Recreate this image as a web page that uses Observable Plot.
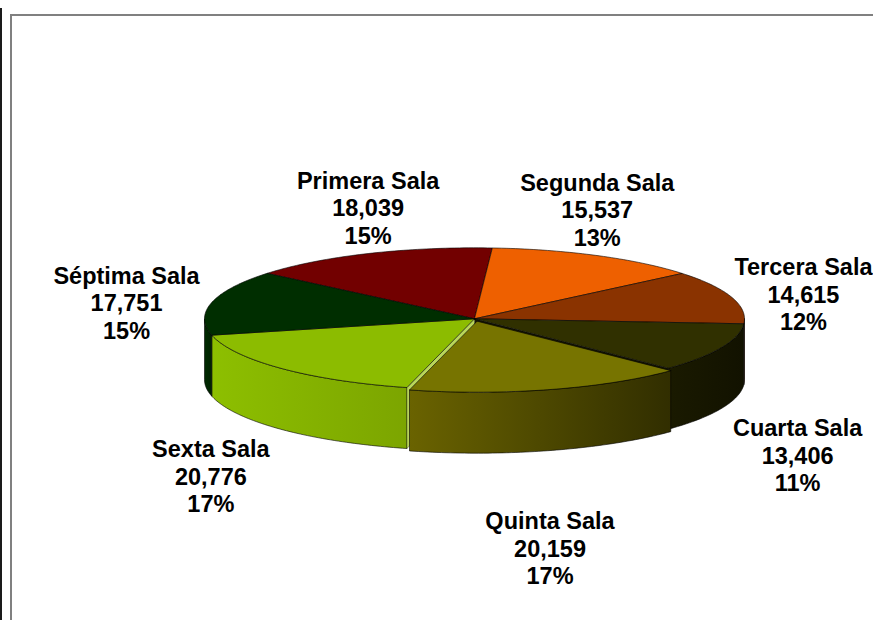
<!DOCTYPE html>
<html><head><meta charset="utf-8">
<script src="https://cdn.jsdelivr.net/npm/d3@7"></script>
<script src="https://cdn.jsdelivr.net/npm/@observablehq/plot@0.6"></script>
<style>
html,body{margin:0;padding:0;background:#fff;}
#wrap{position:relative;width:873px;height:620px;overflow:hidden;}
#outer{position:absolute;left:0;top:8px;width:2px;height:640px;background:#1a1a1a;}
#inner{position:absolute;left:10px;top:14px;width:900px;height:640px;border-left:2px solid #808080;border-top:2px solid #808080;}
#chart{position:absolute;left:0;top:0;}
</style></head><body>
<div id="wrap"><div id="outer"></div><div id="inner"></div><div id="chart"></div></div>
<script>
// ---- data ----
const salas = ["Primera Sala","Segunda Sala","Tercera Sala","Cuarta Sala","Quinta Sala","Sexta Sala","Séptima Sala"];
const casos = [18039, 15537, 14615, 13406, 20159, 20776, 17751];
const explotadas = ["Quinta Sala"];
// top-face colours and side-face gradient stops
const colores = ["#720000","#EE6000","#8A3300","#303000","#777400","#8CBC00","#002E00"];
const ladoInicio = ["#5a0000","#c04c00","#6B2600","#1A1A00","#6A6300","#8DBF00","#002A00"];
const ladoFin    = ["#400000","#a04000","#5A2000","#121200","#312E00","#7CA500","#002200"];
const corteClaro = "#b9d65a", corteOscuro = "#161600";

// ---- geometry ----
const W = 873, H = 620;
const START = -50.2 * Math.PI / 180;
const X0 = 204, X1 = 744, Y0 = 389.3, Y1 = 247.3;
const RX = (X1 - X0) / 2, RY = (Y0 - Y1) / 2;
const D = 61 / RY;          // thickness, in y units
const EXP = 0.035;          // explosion, in radius units
const FS = 23.5, LH = 1.17, GX = 12, GY = 5;

const arcs = d3.pie().sort(null).startAngle(START).endAngle(START + 2 * Math.PI)(casos);
const offset = i => {
  if (!explotadas.includes(salas[i])) return {x: 0, y: 0};
  const m = (arcs[i].startAngle + arcs[i].endAngle) / 2;
  return {x: EXP * Math.sin(m), y: EXP * Math.cos(m)};
};
function arcPts(a0, a1, yOff, o) {
  const n = Math.max(2, Math.ceil(Math.abs(a1 - a0) / (Math.PI / 180)));
  return d3.range(n + 1).map(k => {
    const a = a0 + (a1 - a0) * k / n;
    return {x: Math.sin(a) + o.x, y: Math.cos(a) + o.y + yOff};
  });
}
const tops = [], sides = [];
arcs.forEach((a, i) => {
  const o = offset(i), sala = salas[i];
  const c = {x: o.x, y: o.y};
  const poly = [c, ...arcPts(a.startAngle, a.endAngle, 0, o), c];
  poly.forEach(p => tops.push({...p, sala, i}));
  const s = Math.max(a.startAngle, Math.PI / 2), e = Math.min(a.endAngle, 3 * Math.PI / 2);
  if (s < e) {
    const top = arcPts(s, e, 0, o), bot = arcPts(e, s, -D, o);
    const sp = [...top, ...bot, top[0]];
    sides.push({sala, i, pts: sp.map(p => ({...p, sala, i}))});
  }
});
// radial cut faces of the neighbours of an exploded slice (seen through the gap)
const cutFaces = [];
const cutFace = (ang, key, tone) => {
  const sx = Math.sin(ang), cy = Math.cos(ang);
  [{x:0,y:0},{x:sx,y:cy},{x:sx,y:cy-D},{x:0,y:-D},{x:0,y:0}].forEach(p => cutFaces.push({...p, key, tone}));
};
arcs.forEach((a, i) => {
  const n = arcs.length;
  const prev = salas[(i + n - 1) % n], next = salas[(i + 1) % n];
  if (explotadas.includes(salas[i])) return;
  if (explotadas.includes(prev)) cutFace(a.startAngle, salas[i] + "-ini", corteClaro);
  if (explotadas.includes(next)) cutFace(a.endAngle, salas[i] + "-fin", corteOscuro);
});

// ---- labels ----
const fmt = d3.format(","), pct = d3.format(".0%"), total = d3.sum(casos);
const ctx = document.createElement("canvas").getContext("2d");
ctx.font = `bold ${FS}px "Liberation Sans", Arial, sans-serif`;
const clamp = v => Math.max(0, Math.min(1, v));
const xPx = d3.scaleLinear([-1, 1], [X0, X1]);
const etiquetas = arcs.map((a, i) => {
  const m = (a.startAngle + a.endAngle) / 2, s = Math.sin(m), c = Math.cos(m);
  const o = offset(i);
  let px = s + o.x, py = c + o.y;
  if (c < 0) py -= D;
  const lines = [salas[i], fmt(casos[i]), pct(casos[i] / total)];
  const w = d3.max(lines, t => ctx.measureText(t).width);
  const h = lines.length * FS * LH;
  const fx = Math.sign(s) * clamp((Math.abs(s) - 0.5) / 0.2);
  const fy = -Math.sign(c) * clamp((Math.abs(c) - 0.3) / 0.1);
  const gy = GY + (c < 0 ? 240 * Math.max(0, -c - 0.75) : 0);
  const ox = fx * (w / 2 + GX), oy = fy * (h / 2 + gy);
  // keep the label box inside the chart area
  let cx = xPx(px) + ox;
  cx = Math.max(w / 2 + 1, Math.min(W - w / 2 - 1, cx));
  return {x: xPx.invert(cx), y: py - oy / RY, text: lines.join("\n")};
});

const normal = d => !explotadas.includes(d.sala);
const sideMark = sd => Plot.line(sd.pts, {x: "x", y: "y", fill: `url(#lado-${sd.i})`, stroke: "#000", strokeWidth: 0.7, strokeOpacity: 0.85});

const chart = Plot.plot({
  width: W, height: H,
  x: {domain: [-1, 1], range: [X0, X1], axis: null},
  y: {domain: [-1, 1], range: [Y0, Y1], axis: null},
  color: {domain: salas, range: colores},
  style: {background: "transparent"},
  marks: [
    ...sides.filter(normal).map(sideMark),
    ...d3.groups(cutFaces, d => d.key).map(([k, pts]) =>
      Plot.line(pts, {x: "x", y: "y", fill: pts[0].tone, stroke: "#000", strokeWidth: 0.5, strokeOpacity: 0.6})),
    Plot.line(tops.filter(normal), {x: "x", y: "y", z: "sala", fill: "sala", stroke: "#000", strokeWidth: 0.7, strokeOpacity: 0.85}),
    ...sides.filter(d => !normal(d)).map(sideMark),
    Plot.line(tops.filter(d => !normal(d)), {x: "x", y: "y", z: "sala", fill: "sala", stroke: "#000", strokeWidth: 0.7, strokeOpacity: 0.85}),
    Plot.text(etiquetas, {x: "x", y: "y", text: "text", fontSize: FS, fontWeight: "bold",
      fontFamily: '"Liberation Sans", Arial, sans-serif', lineAnchor: "middle", lineHeight: LH,
      textAnchor: "middle", fill: "#000"})
  ]
});
const defs = d3.select(chart).insert("defs", ":first-child");
salas.forEach((s, i) => {
  const g = defs.append("linearGradient").attr("id", `lado-${i}`).attr("x1", 0).attr("x2", 1).attr("y1", 0).attr("y2", 0);
  g.append("stop").attr("offset", 0).attr("stop-color", ladoInicio[i]);
  g.append("stop").attr("offset", 1).attr("stop-color", ladoFin[i]);
});
document.getElementById("chart").append(chart);
</script>
</body></html>
